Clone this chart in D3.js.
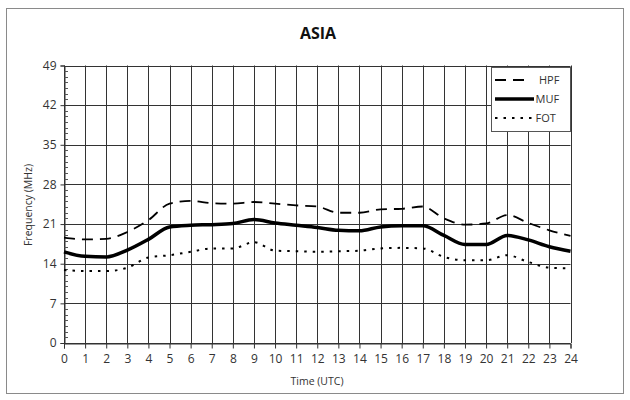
<!DOCTYPE html>
<html><head><meta charset="utf-8">
<script src="https://cdn.jsdelivr.net/npm/d3@7"></script>
<style>html,body{margin:0;padding:0;background:#fff;}svg{display:block;}</style>
</head><body>
<svg id="c" width="630" height="400"></svg>
<script>
const hours = d3.range(0, 25);
const hpf = [18.6,18.3,18.4,19.6,21.7,24.6,25.1,24.7,24.6,24.9,24.6,24.3,24.1,23.0,23.0,23.6,23.7,24.1,22.0,20.9,21.1,22.6,21.2,19.9,18.9];
const muf = [16.1,15.3,15.2,16.4,18.3,20.5,20.8,20.9,21.1,21.8,21.2,20.8,20.4,19.9,19.8,20.5,20.7,20.7,19.0,17.4,17.4,19.0,18.2,17.0,16.2];
const fot = [12.9,12.7,12.7,13.3,15.1,15.5,16.1,16.7,16.7,17.8,16.3,16.2,16.1,16.2,16.3,16.7,16.8,16.7,15.2,14.6,14.6,15.5,14.3,13.3,13.2];
const yTicks = [0,7,14,21,28,35,42,49];
const seriesNames = ["HPF","MUF","FOT"];

const svg = d3.select("#c");
const font = "'Open Sans', 'Noto Sans', sans-serif";
const L = 64, R = 570.5, T = 65.5, B = 343;
const x = d3.scaleLinear().domain([0,24]).range([L,R]);
const y = d3.scaleLinear().domain([0,49]).range([B,T]);

// outer frame
svg.append("rect").attr("x",6.5).attr("y",8.5).attr("width",617).attr("height",385)
  .attr("fill","#fff").attr("stroke","#8a8a8a").attr("stroke-width",1);

// title
svg.append("text").attr("x",318).attr("y",39).attr("text-anchor","middle")
  .attr("font-family",font).attr("font-weight","bold").attr("font-size",16).attr("fill","#111").text("ASIA");

// grid
const g = svg.append("g");
g.selectAll(".vg").data(hours).join("line")
  .attr("x1",d=>Math.round(x(d))+0.5).attr("x2",d=>Math.round(x(d))+0.5)
  .attr("y1",T).attr("y2",B).attr("stroke","#333").attr("stroke-width",1);
g.selectAll(".hg").data(yTicks).join("line")
  .attr("x1",L).attr("x2",R).attr("y1",d=>Math.round(y(d))+0.5).attr("y2",d=>Math.round(y(d))+0.5)
  .attr("stroke","#333").attr("stroke-width",1);

// axes
const xAxis = d3.axisBottom(x).tickValues(hours).tickSize(5).tickPadding(6).tickFormat(d3.format("d"));
const xa = svg.append("g").attr("transform",`translate(0,${Math.round(B)+0.5})`).call(xAxis);
xa.select(".domain").attr("stroke","#333");
xa.selectAll(".tick line").attr("stroke","#333");
xa.selectAll("text").attr("font-family",font).attr("font-size",12).attr("fill","#333");

const yAxis = d3.axisLeft(y).tickValues(yTicks).tickSize(4).tickPadding(4);
const ya = svg.append("g").attr("transform",`translate(${Math.round(L)+0.5},0)`).call(yAxis);
ya.select(".domain").attr("stroke","#333");
ya.selectAll(".tick line").attr("stroke","#333");
ya.selectAll("text").attr("font-family",font).attr("font-size",12).attr("fill","#333");

// minor ticks on y
const minor = d3.range(0,50).filter(v=>v%7!==0);
svg.append("g").selectAll("line").data(minor).join("line")
  .attr("x1",Math.round(L)+0.5).attr("x2",Math.round(L)+4)
  .attr("y1",d=>Math.round(y(d))+0.5).attr("y2",d=>Math.round(y(d))+0.5)
  .attr("stroke","#555").attr("stroke-width",1);

// axis titles
svg.append("text").attr("x",317).attr("y",385).attr("text-anchor","middle")
  .attr("font-family",font).attr("font-size",10.5).attr("fill","#333").text("Time (UTC)");
svg.append("text").attr("transform","translate(32,205) rotate(-90)").attr("text-anchor","middle")
  .attr("font-family",font).attr("font-size",10.5).attr("fill","#333").text("Frequency (MHz)");

// lines
const line = d3.line().x((d,i)=>x(hours[i])).y(d=>y(d)).curve(d3.curveMonotoneX);
const styles = [
  {data:hpf, w:1.8, dash:"11,7"},
  {data:muf, w:3.5, dash:null},
  {data:fot, w:2, dash:"2.5,6"}
];
styles.forEach(s=>{
  svg.append("path").attr("d",line(s.data)).attr("fill","none").attr("stroke","#000")
    .attr("stroke-width",s.w).attr("stroke-dasharray",s.dash);
});

// legend
const lg = svg.append("g");
lg.append("rect").attr("x",491.5).attr("y",67.5).attr("width",79).attr("height",64)
  .attr("fill","#fff").attr("stroke","#555");
const legY = [80, 99, 118];
seriesNames.forEach((n,i)=>{
  const yy = legY[i];
  lg.append("line").attr("x1",495).attr("x2",i===0?531:534).attr("y1",yy).attr("y2",yy)
    .attr("stroke","#000").attr("stroke-width",styles[i].w).attr("stroke-dasharray",styles[i].dash);
  lg.append("text").attr("x",i===0?539:535.5).attr("y",yy+4).attr("font-family",font).attr("font-size",11)
    .attr("fill","#333").text(n);
});
</script>
</body></html>
